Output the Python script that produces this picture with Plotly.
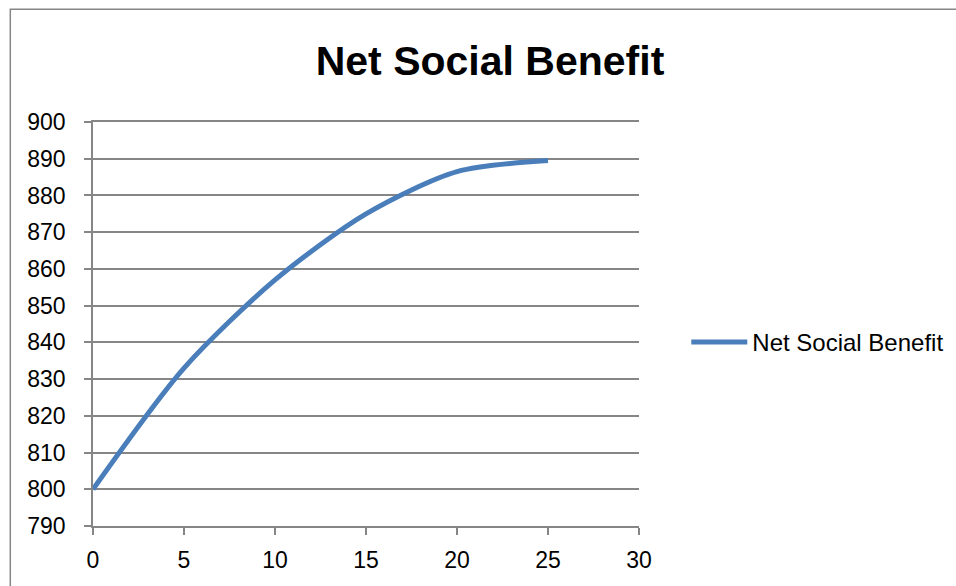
import plotly.graph_objects as go

# Data
x_vals = [0, 5, 10, 15, 20, 25]
y_vals = [800, 833, 857, 875, 886.5, 889.5]
series_name = "Net Social Benefit"
chart_title = "Net Social Benefit"

W, H = 956, 586
L, R, T, B = 92.7, 956 - 638.7, 121.7, 586 - 525.7
pw, ph = W - L - R, H - T - B

def px_to_paper_x(px):
    return (px - L) / pw

def px_to_paper_y(py):
    return (H - B - py) / ph

font_family = "Liberation Sans, Arial, sans-serif"
grid_col = "#868686"

fig = go.Figure()
fig.add_trace(go.Scatter(
    x=x_vals, y=y_vals, mode="lines", name=series_name,
    line=dict(color="#4A7EBB", width=5, shape="spline", smoothing=0.8),
))

fig.update_layout(
    width=W, height=H,
    margin=dict(l=L, r=R, t=T, b=B, autoexpand=False),
    paper_bgcolor="white", plot_bgcolor="white",
    font=dict(family=font_family, size=23, color="black"),
    title=dict(text="<b>" + chart_title + "</b>", x=490 / W, xref="container",
               xanchor="center", y=1 - 61 / H, yref="container", yanchor="middle",
               font=dict(size=41, family=font_family, color="black")),
    showlegend=True,
    legend=dict(x=px_to_paper_x(686), y=px_to_paper_y(342), xanchor="left", yanchor="middle",
                xref="paper", yref="paper", itemwidth=56,
                font=dict(size=24, family=font_family), bgcolor="rgba(0,0,0,0)"),
    xaxis=dict(range=[0, 30], dtick=5, tick0=0, showgrid=False, zeroline=False,
               showline=True, linecolor=grid_col, linewidth=1.5, mirror=True,
               ticks="outside", ticklen=7, tickcolor=grid_col, tickwidth=1.5,
               ticklabelstandoff=6, tickfont=dict(size=23)),
    yaxis=dict(range=[790, 900], dtick=10, tick0=790, showgrid=True, gridcolor=grid_col,
               gridwidth=1.5, zeroline=False, showline=True, linecolor=grid_col, linewidth=1.5,
               ticks="outside", ticklen=7, tickcolor=grid_col, tickwidth=1.5,
               ticklabelstandoff=14, tickfont=dict(size=23)),
    shapes=[dict(type="rect", xref="paper", yref="paper",
                 x0=px_to_paper_x(10), x1=px_to_paper_x(980),
                 y0=px_to_paper_y(620), y1=px_to_paper_y(9),
                 line=dict(color=grid_col, width=1.5), fillcolor="rgba(0,0,0,0)", layer="below")],
)

fig.write_html("out.html")
